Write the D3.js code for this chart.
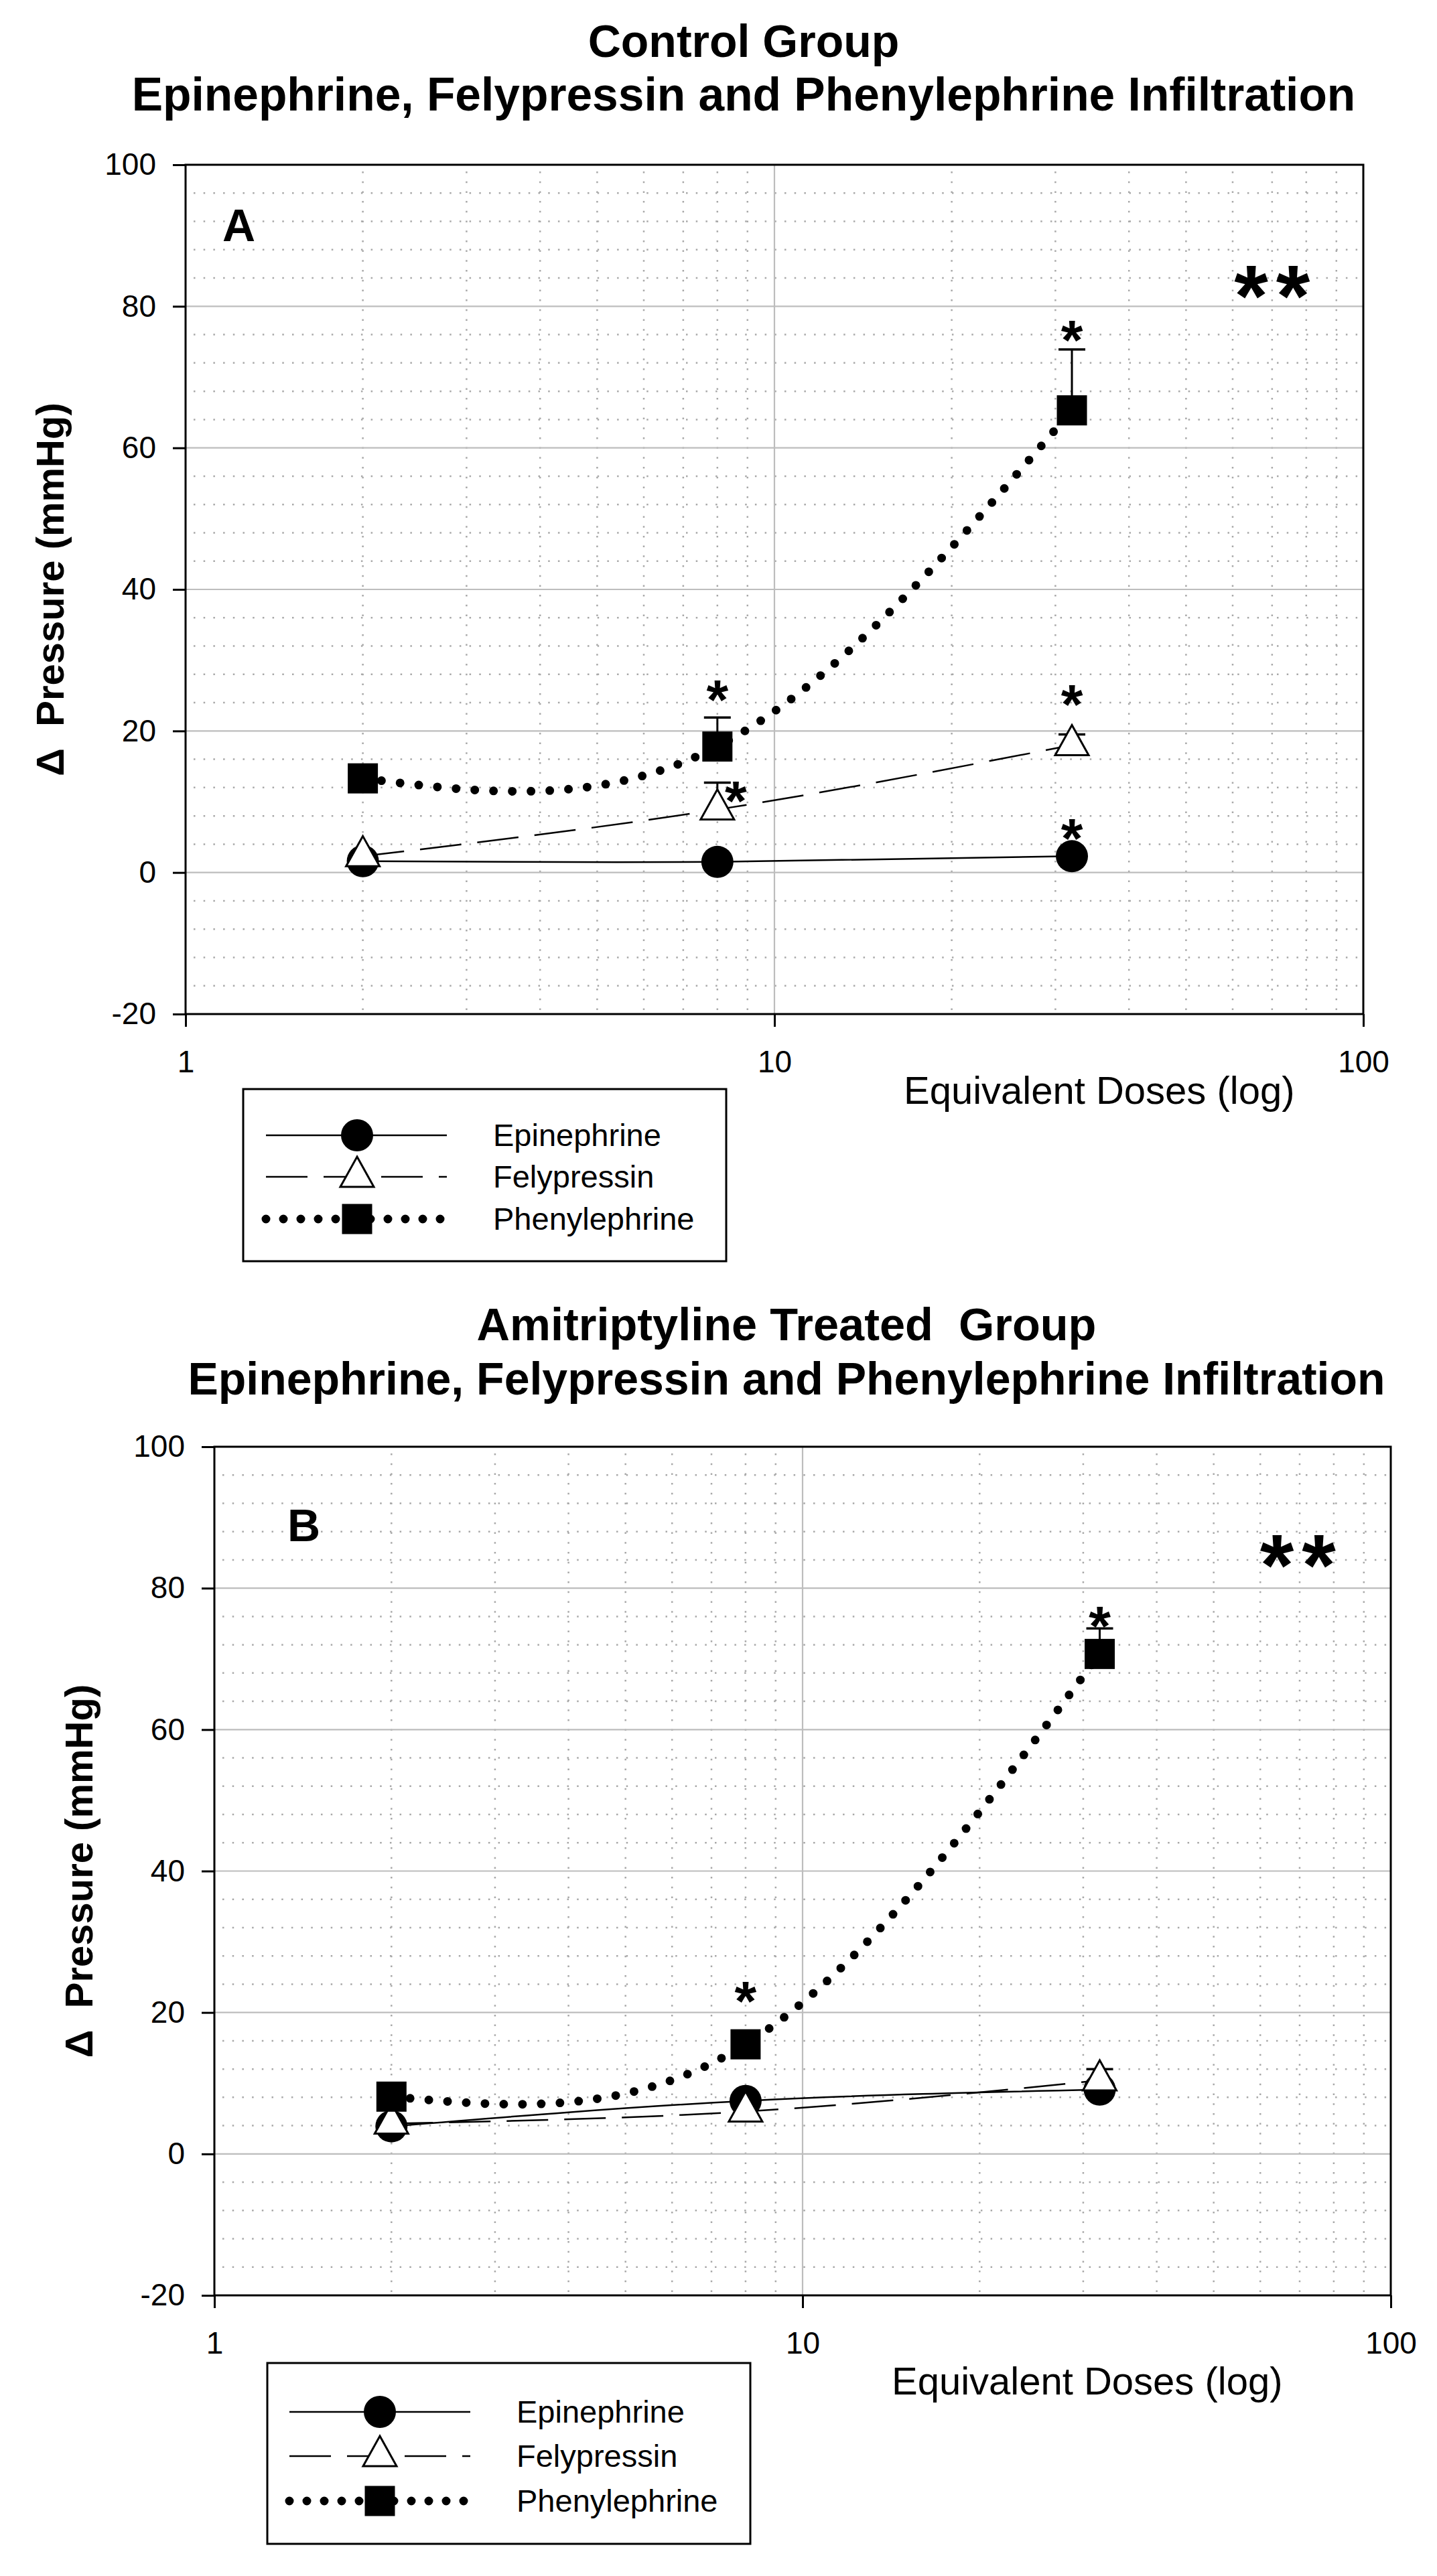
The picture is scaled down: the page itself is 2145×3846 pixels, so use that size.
<!DOCTYPE html>
<html><head><meta charset="utf-8">
<script src="https://cdn.jsdelivr.net/npm/d3@7"></script>
<style>
body{margin:0;background:#fff}
svg{display:block}
text{font-family:"Liberation Sans",Arial,Helvetica,sans-serif;fill:#000}
</style>
</head><body>
<svg id="c" width="2145" height="3846"></svg>
<script>
// ---------- data ----------
const doses = [2, 8, 32];
const seriesNames = ["Epinephrine", "Felypressin", "Phenylephrine"];

const ctrlEpi  = [1.6, 1.5, 2.3];
const ctrlFely = [2.3, 8.9, 18.0];
const ctrlPhen = [13.3, 17.8, 65.3];
const ctrlEpiErr  = [0, 0, 0];
const ctrlFelyErr = [0, 3.8, 1.5];
const ctrlPhenErr = [0, 4.1, 8.6];

const amiEpi  = [3.9, 7.5, 9.1];
const amiFely = [4.3, 6.0, 10.4];
const amiPhen = [8.1, 15.5, 70.7];
const amiEpiErr  = [0, 0, 0];
const amiFelyErr = [0, 0, 1.6];
const amiPhenErr = [0, 0, 3.6];

const yTicks = [-20, 0, 20, 40, 60, 80, 100];
const xTicks = [1, 10, 100];
const yDomain = [-20, 100];
const xDomain = [1, 100];

const titlesA = ["Control Group", "Epinephrine, Felypressin and Phenylephrine Infiltration"];
const titlesB = ["Amitriptyline Treated\u00a0 Group", "Epinephrine, Felypressin and Phenylephrine Infiltration"];
const yTitle = "\u0394\u00a0 Pressure (mmHg)";
const xTitle = "Equivalent Doses (log)";

// significance marks, in data units (dose, value)
const starsA = [
  {d: 8, v: 26.1, t: "*"}, {d: 32, v: 76.9, t: "*"},
  {d: 8.6, v: 11.8, t: "*"}, {d: 32, v: 25.4, t: "*"},
  {d: 32, v: 6.5, t: "*"}, {d: 70, v: 84.1, t: "**"}
];
const starsB = [
  {d: 8, v: 23.3, t: "*"}, {d: 32, v: 76.3, t: "*"},
  {d: 69.5, v: 85.9, t: "**"}
];

// ---------- layout ----------
const panels = [
  {
    letter: "A", titles: titlesA, stars: starsA,
    series: [[ctrlEpi, ctrlEpiErr], [ctrlFely, ctrlFelyErr], [ctrlPhen, ctrlPhenErr]],
    left: 277, right: 2035, top: 246, bottom: 1514,
    titleX: 1110, titleY: [85, 165], titleFs: [68, 69.5],
    letterX: 332, letterY: 360,
    yTitleX: 95, xTitleX: 1349, xTitleY: 1648,
    lg: {x: 363, y: 1626, w: 721, h: 257, rows: [1695, 1757, 1820], l0: 397, l1: 667, mx: 533, tx: 736}
  },
  {
    letter: "B", titles: titlesB, stars: starsB,
    series: [[amiEpi, amiEpiErr], [amiFely, amiFelyErr], [amiPhen, amiPhenErr]],
    left: 320, right: 2076, top: 2160, bottom: 3427,
    titleX: 1174, titleY: [2001, 2082], titleFs: [68.5, 68],
    letterX: 429, letterY: 2301,
    yTitleX: 138, xTitleX: 1331, xTitleY: 3575,
    lg: {x: 399, y: 3528, w: 721, h: 270, rows: [3601, 3667, 3734], l0: 432, l1: 702, mx: 567, tx: 771}
  }
];

const styles = [
  {dash: null, width: 2.5, cap: "butt", marker: "circle"},
  {dash: "62,24", width: 2.5, cap: "butt", marker: "triangle"},
  {dash: "0,28", width: 13, cap: "round", marker: "square"}
];

const svg = d3.select("#c");
svg.append("rect").attr("width", 2145).attr("height", 3846).attr("fill", "#fff");

function triPath(w, h) {
  return `M0,${-2 * h / 3}L${w / 2},${h / 3}L${-w / 2},${h / 3}Z`;
}
function drawMarker(g, type, cx, cy) {
  if (type === "circle") {
    g.append("circle").attr("cx", cx).attr("cy", cy).attr("r", 24).attr("fill", "#000");
  } else if (type === "square") {
    g.append("rect").attr("x", cx - 22.5).attr("y", cy - 22.5).attr("width", 45).attr("height", 45).attr("fill", "#000");
  } else {
    g.append("path").attr("d", triPath(50, 45)).attr("transform", `translate(${cx},${cy})`)
      .attr("fill", "#fff").attr("stroke", "#000").attr("stroke-width", 3).attr("stroke-linejoin", "miter");
  }
}

panels.forEach(p => {
  const x = d3.scaleLog().domain(xDomain).range([p.left, p.right]);
  const y = d3.scaleLinear().domain(yDomain).range([p.bottom, p.top]);
  const g = svg.append("g");

  // titles
  p.titles.forEach((t, i) => {
    g.append("text").attr("x", p.titleX).attr("y", p.titleY[i]).attr("text-anchor", "middle")
      .attr("font-size", p.titleFs[i]).attr("font-weight", "bold").text(t);
  });

  // minor grid
  const minorY = d3.range(-16, 100, 4).filter(v => v % 20 !== 0);
  g.selectAll(null).data(minorY).enter().append("line")
    .attr("x1", p.left + 12).attr("x2", p.right - 4).attr("y1", d => y(d)).attr("y2", d => y(d))
    .attr("stroke", "#a8a8a8").attr("stroke-width", 2.5).attr("stroke-dasharray", "2.5,12.2");
  const minorX = [2, 3, 4, 5, 6, 7, 8, 9, 20, 30, 40, 50, 60, 70, 80, 90];
  g.selectAll(null).data(minorX).enter().append("line")
    .attr("x1", d => x(d)).attr("x2", d => x(d)).attr("y1", p.top + 10).attr("y2", p.bottom - 4)
    .attr("stroke", "#a8a8a8").attr("stroke-width", 2.5).attr("stroke-dasharray", "2.5,12.2");
  // major grid
  g.selectAll(null).data(yTicks.filter(v => v > yDomain[0] && v < yDomain[1])).enter().append("line")
    .attr("x1", p.left).attr("x2", p.right).attr("y1", d => y(d)).attr("y2", d => y(d))
    .attr("stroke", "#bdbdbd").attr("stroke-width", 2.2);
  g.selectAll(null).data(xTicks.filter(v => v > xDomain[0] && v < xDomain[1])).enter().append("line")
    .attr("x1", d => x(d)).attr("x2", d => x(d)).attr("y1", p.top).attr("y2", p.bottom)
    .attr("stroke", "#bdbdbd").attr("stroke-width", 2.2);

  // axes
  const ya = g.append("g").attr("transform", `translate(${p.left},0)`)
    .call(d3.axisLeft(y).tickValues(yTicks).tickFormat(d => String(d)).tickSize(19).tickPadding(25));
  const xa = g.append("g").attr("transform", `translate(0,${p.bottom})`)
    .call(d3.axisBottom(x).tickValues(xTicks).tickFormat(d => String(d)).tickSize(19).tickPadding(35));
  [ya, xa].forEach(a => {
    a.select(".domain").remove();
    a.selectAll(".tick line").attr("stroke", "#000").attr("stroke-width", 3);
    a.selectAll(".tick text").attr("font-size", 46).attr("font-family", "'Liberation Sans',Arial,sans-serif").attr("fill", "#000");
  });
  // frame
  g.append("rect").attr("x", p.left).attr("y", p.top).attr("width", p.right - p.left).attr("height", p.bottom - p.top)
    .attr("fill", "none").attr("stroke", "#000").attr("stroke-width", 3);

  // axis titles
  g.append("text").attr("transform", `translate(${p.yTitleX},${(p.top + p.bottom) / 2}) rotate(-90)`)
    .attr("text-anchor", "middle").attr("font-size", 58).attr("font-weight", "bold").text(yTitle);
  g.append("text").attr("x", p.xTitleX).attr("y", p.xTitleY).attr("font-size", 58).text(xTitle);

  // panel letter
  g.append("text").attr("x", p.letterX).attr("y", p.letterY).attr("font-size", 68).attr("font-weight", "bold").text(p.letter);

  // series lines
  const line = d3.line().x(d => x(d[0])).y(d => y(d[1])).curve(d3.curveNatural);
  p.series.forEach((s, i) => {
    const st = styles[i];
    const pts = doses.map((d, k) => [d, s[0][k]]);
    g.append("path").attr("d", line(pts)).attr("fill", "none").attr("stroke", "#000")
      .attr("stroke-width", st.width).attr("stroke-linecap", st.cap)
      .attr("stroke-dasharray", st.dash);
  });
  // error bars + markers
  p.series.forEach((s, i) => {
    const st = styles[i];
    doses.forEach((d, k) => {
      const v = s[0][k], e = s[1][k];
      if (e > 0) {
        g.append("line").attr("x1", x(d)).attr("x2", x(d)).attr("y1", y(v)).attr("y2", y(v + e))
          .attr("stroke", "#000").attr("stroke-width", 3);
        g.append("line").attr("x1", x(d) - 20).attr("x2", x(d) + 20).attr("y1", y(v + e)).attr("y2", y(v + e))
          .attr("stroke", "#000").attr("stroke-width", 3.5);
      }
    });
    doses.forEach((d, k) => drawMarker(g, st.marker, x(d), y(s[0][k])));
  });

  // significance marks
  p.stars.forEach(s => {
    const dbl = s.t === "**";
    const fs = dbl ? 130 : 84;
    g.append("text").attr("x", x(s.d) + (dbl ? 6 : 0)).attr("y", y(s.v) + 0.56 * fs).attr("text-anchor", "middle")
      .attr("font-size", fs).attr("font-weight", "bold")
      .attr("letter-spacing", dbl ? 12 : 0).text(s.t);
  });

  // legend
  const L = p.lg;
  g.append("rect").attr("x", L.x).attr("y", L.y).attr("width", L.w).attr("height", L.h)
    .attr("fill", "#fff").attr("stroke", "#000").attr("stroke-width", 3);
  seriesNames.forEach((name, i) => {
    const st = styles[i], ry = L.rows[i];
    g.append("line").attr("x1", L.l0).attr("x2", L.l1).attr("y1", ry).attr("y2", ry)
      .attr("stroke", "#000").attr("stroke-width", st.width).attr("stroke-linecap", st.cap)
      .attr("stroke-dasharray", i === 2 ? "0,26" : st.dash);
    drawMarker(g, st.marker, L.mx, ry);
    g.append("text").attr("x", L.tx).attr("y", ry + 16).attr("font-size", 47).text(name);
  });
});
</script>
</body></html>
